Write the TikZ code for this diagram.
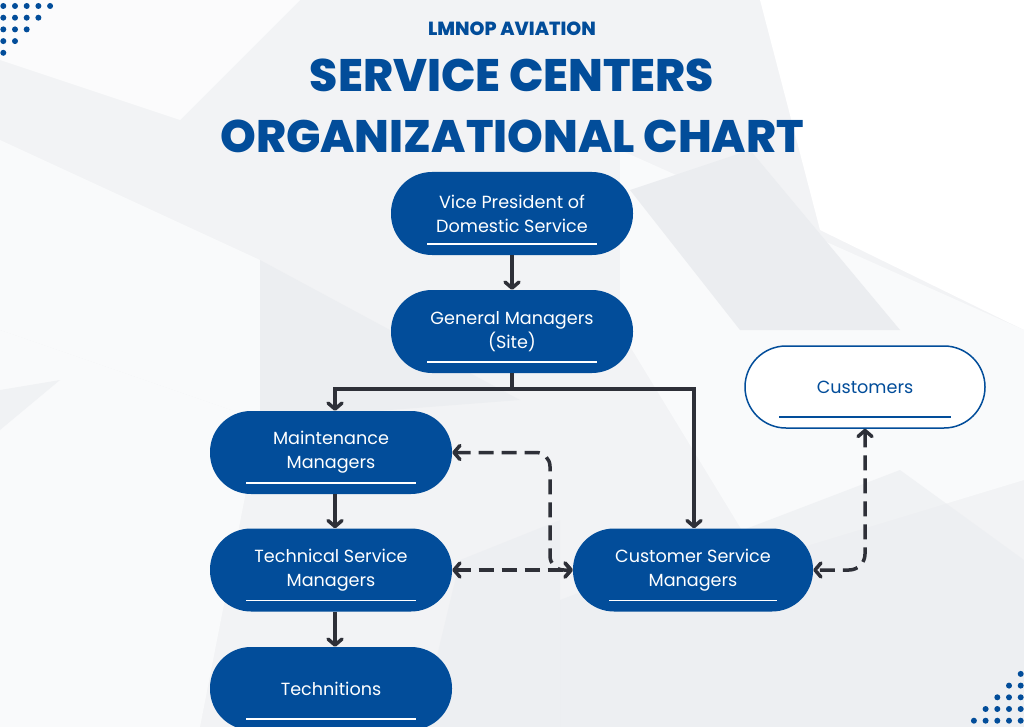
\documentclass[tikz,border=0pt]{standalone}
\usepackage{fontspec}
\setmainfont{Poppins}
\IfFontExistsTF{Poppins ExtraBold}{\newfontfamily\titlefont{Poppins ExtraBold}}{\newfontfamily\titlefont{Poppins}[UprightFont=*-Bold]}
\usetikzlibrary{arrows.meta}
\definecolor{navy}{HTML}{024D9A}
\definecolor{arr}{HTML}{2E3038}
\definecolor{bga}{HTML}{F2F3F5}
\definecolor{bgb}{HTML}{F9FAFB}
\definecolor{bgc}{HTML}{EBEDF0}
\begin{document}
\begin{tikzpicture}[x=1pt,y=-1pt,
  box/.style={fill=navy, text=white, rounded corners=41pt, minimum width=242pt, minimum height=83pt,
    align=center, inner sep=0pt, font=\fontsize{17.6}{24}\selectfont,
    path picture={\draw[white,line width=1.2pt] ([xshift=36pt,yshift=11pt]path picture bounding box.south west) -- ([xshift=-36pt,yshift=11pt]path picture bounding box.south east);}},
  wbox/.style={box, fill=white, draw=navy, line width=1.5pt, text=navy,
    path picture={\draw[navy,line width=2pt] ([xshift=34pt,yshift=11pt]path picture bounding box.south west) -- ([xshift=-34pt,yshift=11pt]path picture bounding box.south east);}},
  conn/.style={draw=arr, line width=3.5pt},
  dconn/.style={conn, dash pattern=on 15pt off 8pt},
  tip/.tip={Straight Barb[length=6pt,width=14pt,line cap=round,line join=round]}
]
% background
\useasboundingbox (0,0) rectangle (1024,727);
\fill[bga] (0,0) rectangle (1024,727);
\fill[bgb] (0,140) -- (260,260) -- (260,420) -- (0,330) -- cycle;
\fill[bgb] (0,330) -- (260,420) -- (200,727) -- (0,727) -- cycle;
\fill[white] (760,0) -- (1024,0) -- (1024,330) -- (820,230) -- cycle;
\fill[bgb] (620,150) -- (1024,330) -- (1024,480) -- (760,560) -- (620,330) -- cycle;
\fill[bgc] (630,190) -- (750,150) -- (900,330) -- (740,330) -- cycle;
\fill[bgc,opacity=0.8] (260,260) -- (520,400) -- (260,420) -- cycle;
\fill[white,opacity=0.7] (0,0) -- (300,0) -- (180,120) -- (0,60) -- cycle;
\fill[bgc,opacity=0.6] (560,600) -- (900,470) -- (1024,560) -- (1024,727) -- (560,727) -- cycle;
\fill[bgc,opacity=0.6] (460,560) -- (560,520) -- (560,727) -- (420,727) -- cycle;
\fill[bgc,opacity=0.6] (0,390) -- (60,380) -- (0,430) -- cycle;
% dots
\foreach \r in {0,...,4}{
  \pgfmathtruncatemacro{\n}{4-\r}
  \foreach \c in {0,...,\n}{
    \fill[navy] (3.3+11.7*\c, 6+11.7*\r) circle (3pt);
    \fill[navy] (1020.7-11.7*\c, 720.7-11.7*\r) circle (3pt);
  }
}
% title
\node[text=navy, font=\titlefont\fontsize{19}{20}\selectfont] (t1) at (512,29) {LMNOP AVIATION};
\node[text=navy, font=\titlefont\fontsize{45.5}{48}\selectfont] (t2) at (512,75) {SERVICE CENTERS};
\node[text=navy, font=\titlefont\fontsize{45.5}{48}\selectfont] (t3) at (512,136) {ORGANIZATIONAL CHART};
% boxes
\node[box] (vp) at (512,213.5) {Vice President of\\Domestic Service};
\node[box] (gm) at (512,331.5) {General Managers\\(Site)};
\node[box] (mm) at (331,452.5) {Maintenance\\Managers};
\node[box] (ts) at (331,570) {Technical Service\\Managers};
\node[box] (te) at (331,688.5) {Technitions};
\node[box, minimum width=240pt] (cs) at (693,570) {Customer Service\\Managers};
\node[wbox, minimum width=240pt, minimum height=82pt] (cu) at (865,387) {Customers};
% connectors
\draw[conn,-tip] (vp.south) -- (gm.south |- gm.north);
\draw[conn] (gm.south) -- ++(0,16) coordinate (j);
\draw[conn,-tip] (j) -| ([xshift=4pt]mm.north);
\draw[conn,-tip] (j) -| ([xshift=1pt]cs.north);
\draw[conn,-tip] ([xshift=4pt]mm.south) -- ([xshift=4pt]ts.north);
\draw[conn,-tip] ([xshift=4pt]ts.south) -- ([xshift=4pt]te.north);
\draw[dconn,tip-tip] (ts.east) -- (cs.west);
\draw[dconn,tip-tip, rounded corners=14pt] (mm.east) -- (550,452.5) -- (550,570) -- (cs.west);
\draw[dconn,tip-tip, rounded corners=16pt] (cu.south) -- (865,570) -- (cs.east);
\end{tikzpicture}
\end{document}
